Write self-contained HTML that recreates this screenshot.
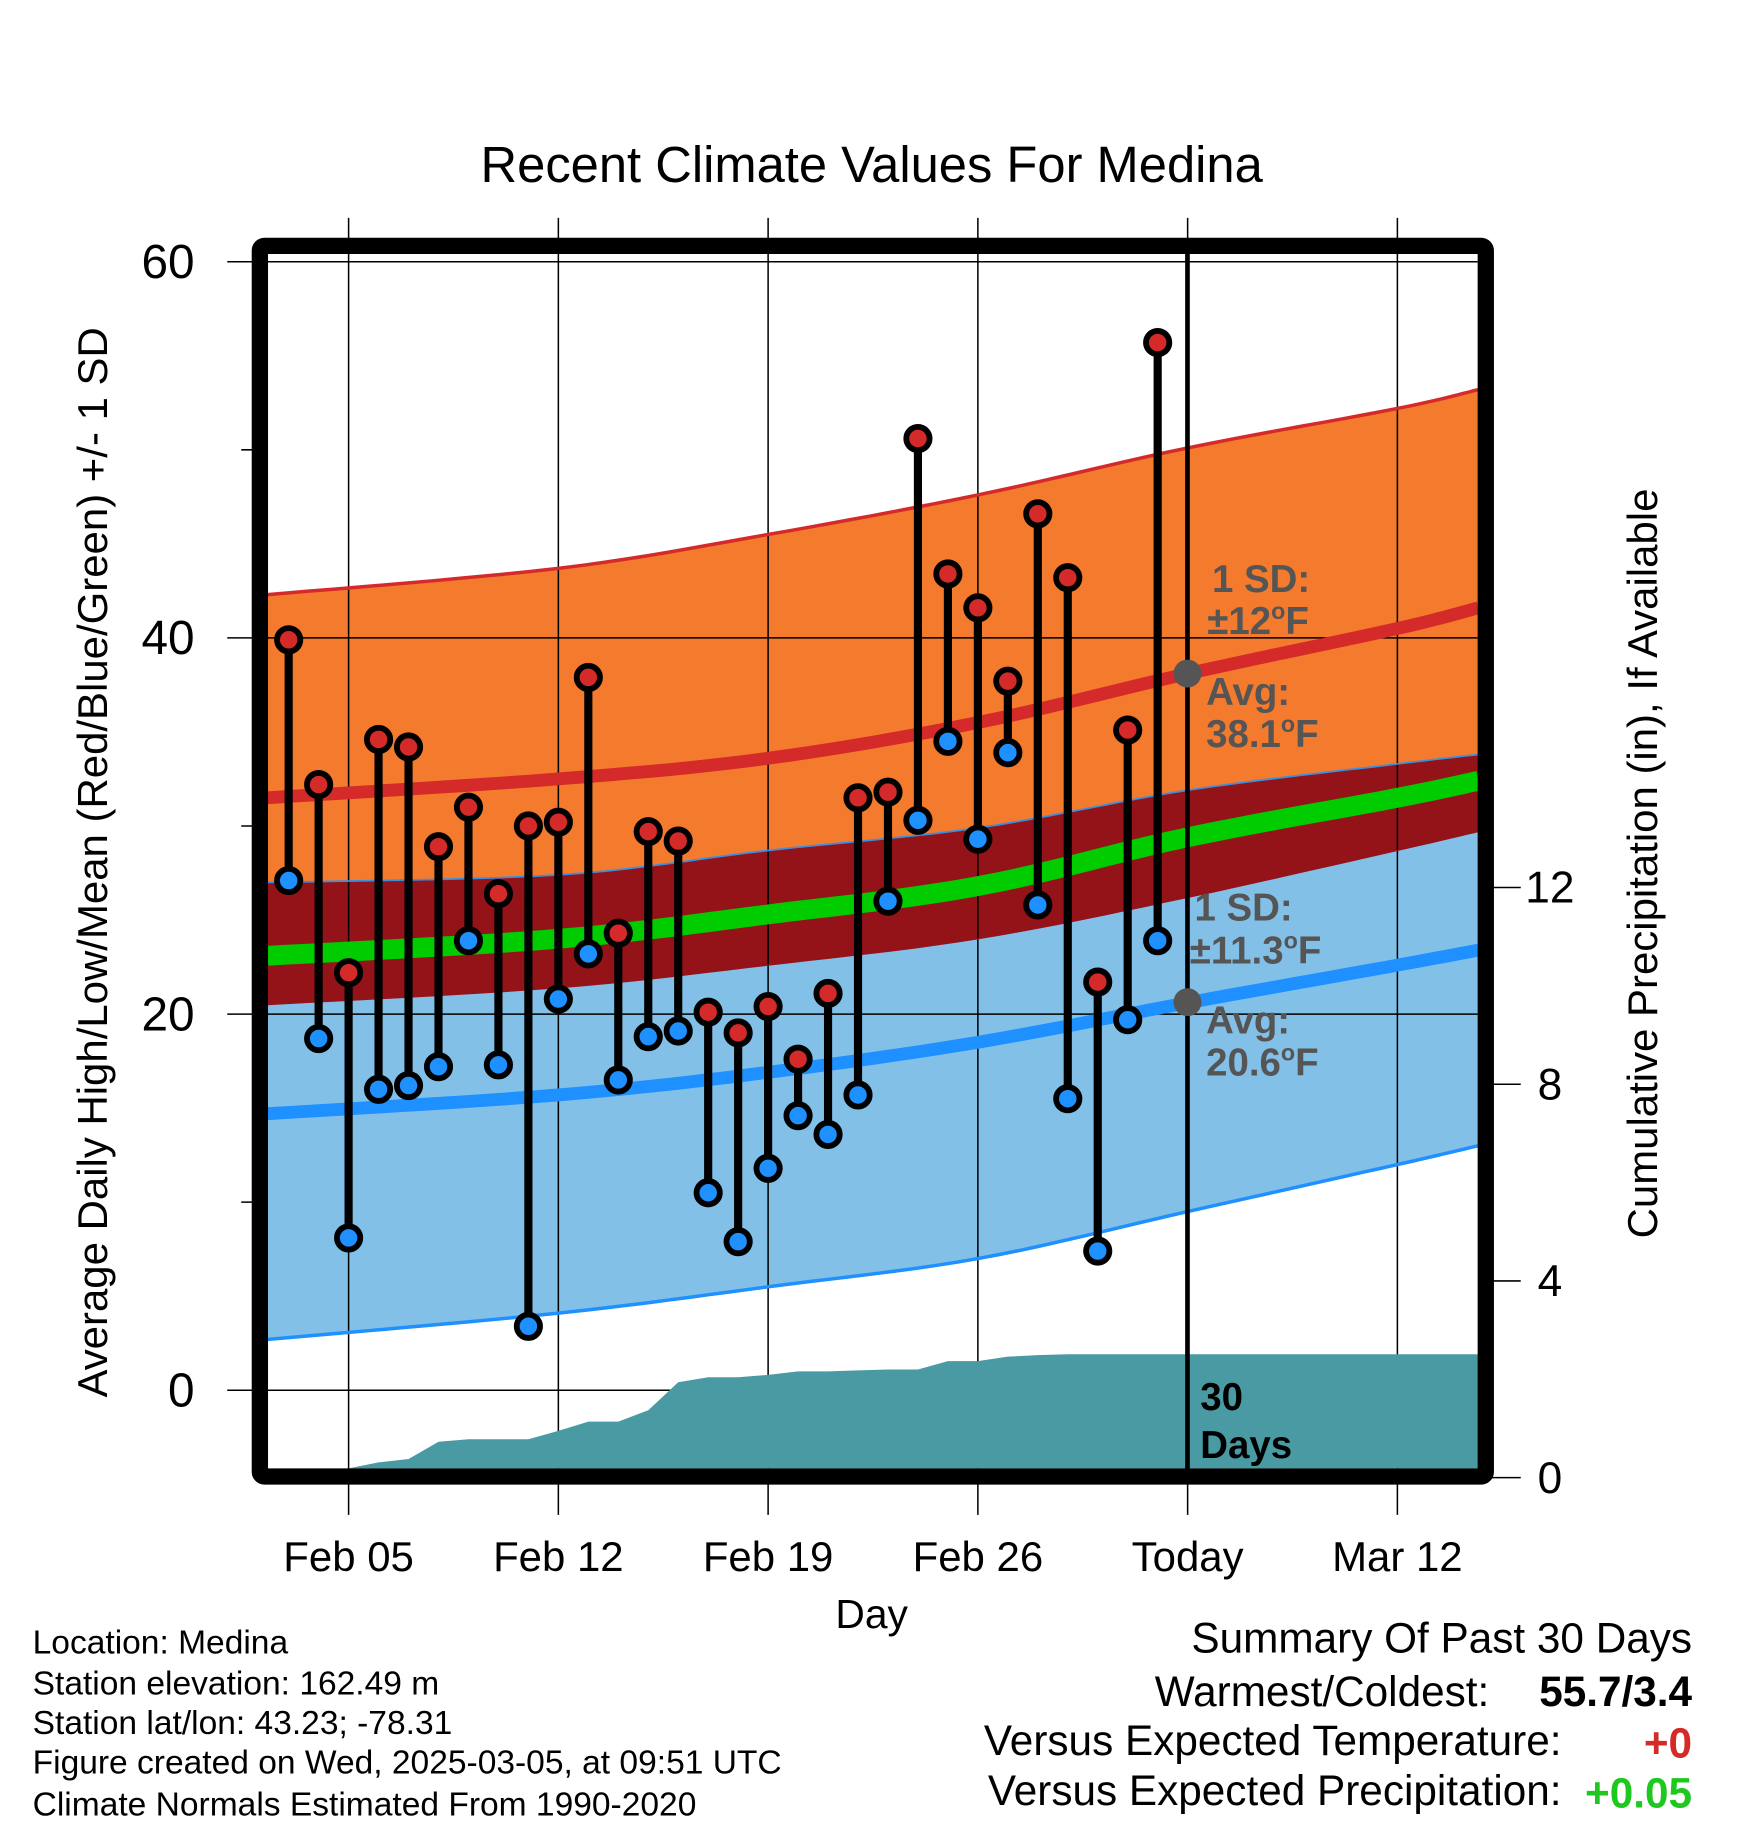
<!DOCTYPE html>
<html><head><meta charset="utf-8"><style>
html,body{margin:0;padding:0;background:#fff;}
svg{display:block;font-family:"Liberation Sans",sans-serif;}
</style></head><body>
<svg id="chart" width="1748" height="1828" viewBox="0 0 1500 1568.65" xmlns="http://www.w3.org/2000/svg">
<defs><clipPath id="plotclip"><rect x="229" y="218" width="1040" height="1042"/></clipPath></defs>
<text x="748" y="156" font-size="43.5" text-anchor="middle">Recent Climate Values For Medina</text>
<g id="fills" clip-path="url(#plotclip)"></g>
<g id="grid"></g>
<g id="precip" clip-path="url(#plotclip)"></g>
<g id="lines" clip-path="url(#plotclip)"></g>
<line x1="1019" y1="211" x2="1019" y2="1262" stroke="#000" stroke-width="4"/>
<g id="annot" font-weight="bold" font-size="33" fill="#555">
<circle cx="1019" cy="578" r="12" fill="#555"/>
<circle cx="1019" cy="860" r="12" fill="#555"/>
<text x="1040" y="508">1 SD:</text>
<text x="1036" y="544">±12<tspan font-size="20" dy="-13">o</tspan><tspan dy="13">F</tspan></text>
<text x="1035" y="605">Avg:</text>
<text x="1035" y="641">38.1<tspan font-size="20" dy="-13">o</tspan><tspan dy="13">F</tspan></text>
<text x="1025" y="790">1 SD:</text>
<text x="1021" y="827">±11.3<tspan font-size="20" dy="-13">o</tspan><tspan dy="13">F</tspan></text>
<text x="1035" y="887">Avg:</text>
<text x="1035" y="923">20.6<tspan font-size="20" dy="-13">o</tspan><tspan dy="13">F</tspan></text>
</g>
<text x="1030" y="1210" font-size="33" font-weight="bold">30</text>
<text x="1030" y="1251" font-size="33" font-weight="bold">Days</text>
<g id="points"></g>
<rect x="223" y="211" width="1052" height="1056" fill="none" stroke="#000" stroke-width="14" rx="4"/>
<g id="axes"></g>
<text transform="translate(92,740) rotate(-90)" font-size="36" text-anchor="middle">Average Daily High/Low/Mean (Red/Blue/Green) +/- 1 SD</text>
<text transform="translate(1422,741) rotate(-90)" font-size="36" text-anchor="middle">Cumulative Precipitation (in), If Available</text>
<text x="748" y="1397" font-size="35" text-anchor="middle">Day</text>
<g font-size="28.8">
<text x="28" y="1419">Location: Medina</text>
<text x="28" y="1454">Station elevation: 162.49 m</text>
<text x="28" y="1488">Station lat/lon: 43.23; -78.31</text>
<text x="28" y="1522">Figure created on Wed, 2025-03-05, at 09:51 UTC</text>
<text x="28" y="1558">Climate Normals Estimated From 1990-2020</text>
</g>
<g font-size="36.3">
<text x="1452" y="1418" text-anchor="end">Summary Of Past 30 Days</text>
<text x="1278" y="1464" text-anchor="end">Warmest/Coldest:</text>
<text x="1452" y="1464" text-anchor="end" font-weight="bold">55.7/3.4</text>
<text x="1340" y="1506" text-anchor="end">Versus Expected Temperature:</text>
<text x="1452" y="1508" text-anchor="end" font-weight="bold" fill="#d42a2a">+0</text>
<text x="1340" y="1549" text-anchor="end">Versus Expected Precipitation:</text>
<text x="1452" y="1551" text-anchor="end" font-weight="bold" fill="#1ec81e">+0.05</text>
</g>
</svg>
<script>
// ---- data ----
const normDays = [0.3, 10, 17, 24, 31, 38, 40.7]; // days since Feb 2
const upperSD = [42.3, 43.7, 45.5, 47.6, 50.1, 52.2, 53.2];
const avgHigh = [31.5, 32.5, 33.6, 35.5, 38.1, 40.5, 41.6];
const bandTop = [27.0, 27.4, 28.7, 29.9, 31.9, 33.3, 33.8];
const avgMean = [23.1, 24.0, 25.3, 26.8, 29.4, 31.5, 32.4];
const bandBottom = [20.5, 21.4, 22.6, 24.0, 26.2, 28.7, 29.7];
const avgLow = [14.7, 15.7, 16.9, 18.5, 20.6, 22.6, 23.4];
const lowerSD = [2.7, 4.1, 5.5, 7.0, 9.5, 12.0, 13.0];
const highs = [39.9,32.2,22.2,34.6,34.2,28.9,31.0,26.4,30.0,30.2,37.9,24.3,29.7,29.2,20.1,19.0,20.4,17.6,21.1,31.5,31.8,50.6,43.4,41.6,37.7,46.6,43.2,21.7,35.1,55.7];
const lows = [27.1,18.7,8.1,16.0,16.2,17.2,23.9,17.3,3.4,20.8,23.2,16.5,18.8,19.1,10.5,7.9,11.8,14.6,13.6,15.7,26.0,30.3,34.5,29.3,33.9,25.8,15.5,7.4,19.7,23.9];
const precipDays = [3,4,5,6,7,8,9,10,11,12,13,14,15,16,17,18,19,20,21,22,23,24,25,26,27,28,40.7];
const precip = [0.19,0.31,0.38,0.73,0.78,0.78,0.78,0.95,1.14,1.14,1.37,1.94,2.04,2.04,2.09,2.16,2.16,2.18,2.20,2.20,2.37,2.37,2.46,2.49,2.51,2.51,2.51];
const yTicks = [0,20,40,60];
const yMinor = [10,30,50];
const y2Ticks = [0,4,8,12];
const xTickDays = [3,10,17,24,31,38];
const xTickLabels = ["Feb 05","Feb 12","Feb 19","Feb 26","Today","Mar 12"];

// ---- scales ----
const X = d => 222 + d*25.714;
const Y = v => 1193 - v*16.14;
const Y2 = v => 1268 - v*42.2;
const NS = "http://www.w3.org/2000/svg";
function mk(tag, attrs, parent){const e=document.createElementNS(NS,tag);for(const k in attrs)e.setAttribute(k,attrs[k]);parent.appendChild(e);return e;}
const g = id => document.getElementById(id);
// smooth curve via Catmull-Rom
function smoothPts(vals){
  const p=normDays.map((d,i)=>[X(d),Y(vals[i])]);
  const out=[];
  for(let i=0;i<p.length-1;i++){
    const p0=p[Math.max(0,i-1)],p1=p[i],p2=p[i+1],p3=p[Math.min(p.length-1,i+2)];
    for(let t=0;t<1;t+=0.1){
      const t2=t*t,t3=t2*t;
      const f=(a,b,c,d)=>0.5*((2*b)+(-a+c)*t+(2*a-5*b+4*c-d)*t2+(-a+3*b-3*c+d)*t3);
      out.push([f(p0[0],p1[0],p2[0],p3[0]),f(p0[1],p1[1],p2[1],p3[1])]);
    }
  }
  out.push(p[p.length-1]);
  return out.map(q=>q[0].toFixed(1)+","+q[1].toFixed(1));
}
function band(a,b){return "M"+smoothPts(a).join(" L")+" L"+smoothPts(b).reverse().join(" L")+" Z";}

const fills=g('fills');
let e;
e=mk('path',{d:band(upperSD,bandTop),fill:'#f47a2e'},fills);


e=mk('path',{d:band(bandTop,bandBottom),fill:'#941319'},fills);


e=mk('path',{d:band(bandBottom,lowerSD),fill:'#82c0e8'},fills);



// grid
const grid=g('grid');
xTickDays.forEach(d=>{e=mk('line',{x1:X(d),x2:X(d),y1:187,y2:1300,stroke:'#000','stroke-width':1.3},grid);

});
yTicks.forEach(v=>{e=mk('line',{x1:195,x2:1268,y1:Y(v),y2:Y(v),stroke:'#000','stroke-width':1.3},grid);

});

// precip
const pp=g('precip');
let d="M"+X(precipDays[0])+","+Y2(0);
precipDays.forEach((dd,i)=>{d+=" L"+X(dd).toFixed(1)+","+Y2(precip[i]).toFixed(1);});
d+=" L"+X(precipDays[precipDays.length-1])+","+Y2(0)+" Z";
e=mk('path',{d:d,fill:'#4a9aa4'},pp);



// lines
const ln=g('lines');
function line(vals,color,w,name){const el=mk('polyline',{points:smoothPts(vals).join(" "),fill:'none',stroke:color,'stroke-width':w},ln);

}
line(upperSD,'#d42a2a',3,'high-plus-sd-line');
line(bandTop,'#3a8fe0',1.5,'mean-upper-line');
line(avgMean,'#00cc00',17,'avg-mean-line');
line(bandBottom,'#941319',1,'mean-lower-line');
line(avgHigh,'#d42a2a',11,'avg-high-line');
line(avgLow,'#1e90ff',11,'avg-low-line');
line(lowerSD,'#1e90ff',3,'low-minus-sd-line');

// points
const P=g('points');
highs.forEach((h,i)=>{const x=X(1+i);
e=mk('line',{x1:x,x2:x,y1:Y(h),y2:Y(lows[i]),stroke:'#000','stroke-width':7},P);


e=mk('circle',{cx:x,cy:Y(h),r:10,fill:'#d42a2a',stroke:'#000','stroke-width':5},P);


e=mk('circle',{cx:x,cy:Y(lows[i]),r:10,fill:'#1e90ff',stroke:'#000','stroke-width':5},P);


});

// axes labels
const A=g('axes');
yTicks.forEach(v=>{e=mk('text',{x:167,y:Y(v)+14,'font-size':41,'text-anchor':'end'},A);e.textContent=v;

});
yMinor.forEach(v=>{e=mk('line',{x1:207,x2:222,y1:Y(v),y2:Y(v),stroke:'#000','stroke-width':1.3},A);

});
y2Ticks.forEach(v=>{e=mk('line',{x1:1275,x2:1305,y1:Y2(v),y2:Y2(v),stroke:'#000','stroke-width':1.3},A);


e=mk('text',{x:1330,y:Y2(v)+13,'font-size':38,'text-anchor':'middle'},A);e.textContent=v;

});
xTickDays.forEach((dd,i)=>{e=mk('text',{x:X(dd),y:1348,'font-size':36,'text-anchor':'middle'},A);e.textContent=xTickLabels[i];

});
</script>
</body></html>
